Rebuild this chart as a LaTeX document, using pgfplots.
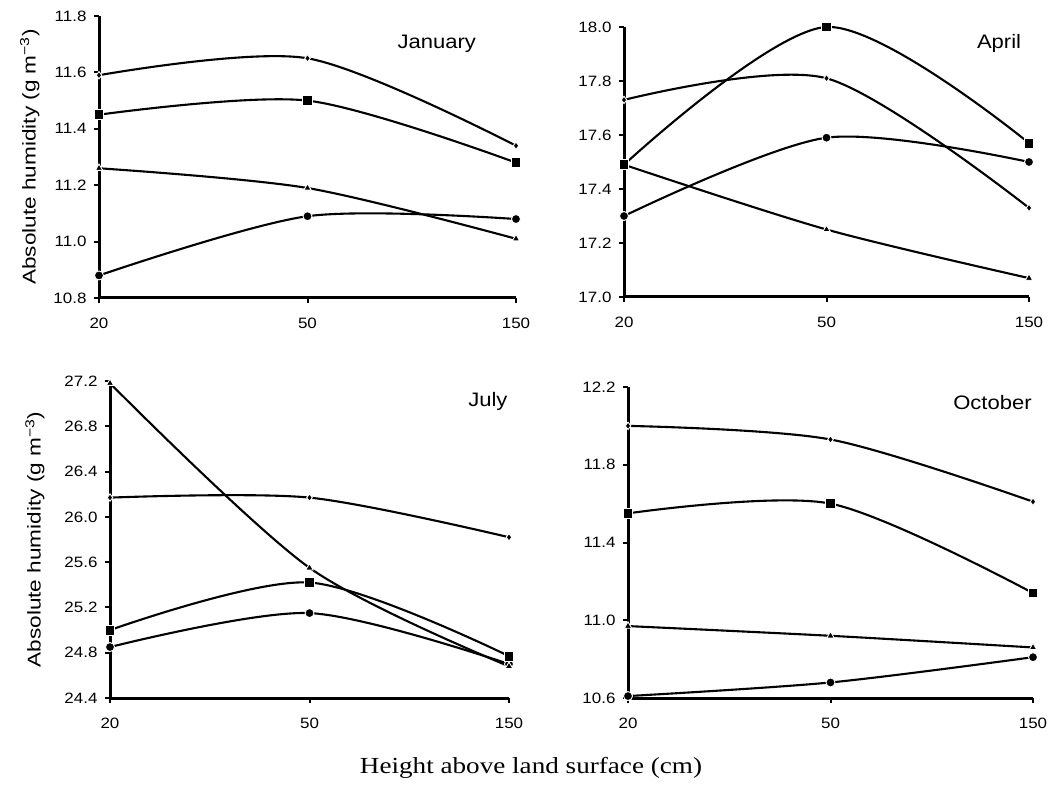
\documentclass[border=0pt]{standalone}
\usepackage{pgfplots}
\pgfplotsset{compat=1.18}
\usepackage{fontspec}
\setmainfont{Liberation Sans}[FakeStretch=1.13]
\newfontfamily\ylabfont{Liberation Sans}[FakeStretch=1.22]
\newfontfamily\timesf{Liberation Serif}[FakeStretch=1.18]

\tikzset{month/.style={font=\fontsize{19.5}{22}\selectfont, anchor=center}}
\pgfplotsset{
  panel/.style={
    scale only axis, anchor=south west,
    axis x line=bottom, axis y line=left,
    axis line style={-, line width=3pt, black},
    xmin=0, xmax=2, xtick={0,1,2}, xticklabels={20,50,150},
    tick align=outside, major tick length=5pt,
    tick style={black, line width=2pt},
    tick label style={font=\fontsize{15}{17}\selectfont},
    x tick label style={yshift=-11pt},
    y tick label style={xshift=-4pt},
    /pgf/number format/assume math mode=true,
    y tick label style={/pgf/number format/.cd, fixed, fixed zerofill, precision=1},
    ylabel style={font=\ylabfont\fontsize{18.5}{20}\selectfont, anchor=center, rotate=0},
    clip=false,
  },
  base/.style={black, line width=2.1pt, smooth, tension=0.5},
  dia/.style={base, mark=diamond*, mark size=3.7, mark options={solid, fill=black, draw=white, line width=0.9pt}},
  sq/.style={base, mark=square*, mark size=4.9, mark options={solid, fill=black, draw=white, line width=0.9pt}},
  tri/.style={base, mark=triangle*, mark size=4.3, mark options={solid, fill=black, draw=white, line width=0.9pt}},
  cir/.style={base, mark=*, mark size=4.5, mark options={solid, fill=black, draw=white, line width=0.9pt}},
}

\begin{document}
\begin{tikzpicture}
\path[use as bounding box] (0,0) rectangle (1062pt,785pt);

% January
\begin{axis}[panel, at={(99pt,487pt)}, width=417pt, height=282pt,
  ymin=10.8, ymax=11.8, ytick={10.8,11.0,...,11.8},
  ylabel={Absolute humidity (g m\textsuperscript{−3})},
  ylabel style={at={(axis description cs:-0.166,0.5)}}]
\addplot[dia] coordinates {(0,11.59) (1,11.65) (2,11.34)};
\addplot[sq] coordinates {(0,11.45) (1,11.50) (2,11.28)};
\addplot[tri] coordinates {(0,11.26) (1,11.19) (2,11.01)};
\addplot[cir] coordinates {(0,10.88) (1,11.09) (2,11.08)};
\node[month] at (rel axis cs:0.81,0.90) {January};
\end{axis}

% April
\begin{axis}[panel, at={(624pt,488pt)}, width=405pt, height=270pt,
  ymin=17.0, ymax=18.0, ytick={17.0,17.2,...,18.0}]
\addplot[tri] coordinates {(0,17.49) (1,17.25) (2,17.07)};
\addplot[dia] coordinates {(0,17.73) (1,17.81) (2,17.33)};
\addplot[cir] coordinates {(0,17.30) (1,17.59) (2,17.50)};
\addplot[sq] coordinates {(0,17.49) (1,18.00) (2,17.57)};
\node[month] at (rel axis cs:0.926,0.94) {April};
\end{axis}

% July
\begin{axis}[panel, at={(110pt,87pt)}, width=399pt, height=317pt,
  ymin=24.4, ymax=27.2, ytick={24.4,24.8,...,27.2},
  ylabel={Absolute humidity (g m\textsuperscript{−3})},
  ylabel style={at={(axis description cs:-0.188,0.5)}}]
\addplot[cir] coordinates {(0,24.85) (1,25.15) (2,24.70)};
\addplot[dia] coordinates {(0,26.17) (1,26.17) (2,25.82)};
\addplot[sq] coordinates {(0,25.00) (1,25.42) (2,24.77)};
\addplot[tri] coordinates {(0,27.18) (1,25.55) (2,24.68)};
\node[month] at (rel axis cs:0.947,0.934) {July};
\end{axis}

% October
\begin{axis}[panel, at={(628pt,87pt)}, width=405pt, height=311pt,
  ymin=10.6, ymax=12.2, ytick={10.6,11.0,...,12.2}]
\addplot[dia] coordinates {(0,12.00) (1,11.93) (2,11.61)};
\addplot[sq] coordinates {(0,11.55) (1,11.60) (2,11.14)};
\addplot[tri] coordinates {(0,10.97) (1,10.92) (2,10.86)};
\addplot[cir] coordinates {(0,10.61) (1,10.68) (2,10.81)};
\node[month] at (rel axis cs:0.90,0.949) {October};
\end{axis}

\node[font=\timesf\fontsize{23}{26}\selectfont, anchor=center] at (531pt,17pt) {Height above land surface (cm)};
\end{tikzpicture}
\end{document}
